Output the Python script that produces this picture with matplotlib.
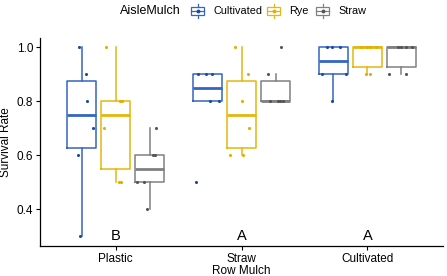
import numpy as np
import matplotlib.pyplot as plt
from matplotlib.patches import Rectangle

plt.rcParams['font.family'] = ['Liberation Sans', 'DejaVu Sans']

row_mulch = ["Plastic", "Straw", "Cultivated"]
aisle_mulch = ["Cultivated", "Rye", "Straw"]
letters = ["B", "A", "A"]

# survival rate per plot
plastic_cultivated = [1.0, 0.9, 0.8, 0.7, 0.6, 0.3]
plastic_rye = [1.0, 0.8, 0.8, 0.7, 0.5, 0.5]
plastic_straw = [0.7, 0.6, 0.6, 0.5, 0.5, 0.4]
straw_cultivated = [0.9, 0.9, 0.9, 0.8, 0.8, 0.5]
straw_rye = [1.0, 0.9, 0.8, 0.7, 0.6, 0.6]
straw_straw = [1.0, 0.9, 0.8, 0.8, 0.8, 0.8]
cult_cultivated = [1.0, 1.0, 1.0, 0.9, 0.9, 0.8]
cult_rye = [1.0, 1.0, 1.0, 1.0, 0.9, 0.9]
cult_straw = [1.0, 1.0, 1.0, 1.0, 0.9, 0.9]

groups = [
    [plastic_cultivated, plastic_rye, plastic_straw],
    [straw_cultivated, straw_rye, straw_straw],
    [cult_cultivated, cult_rye, cult_straw],
]

# horizontal jitter of the points (same order as data)
jitter = [
    [[-0.021, 0.037, 0.045, 0.090, -0.029, -0.013],
     [-0.079, 0.033, 0.048, -0.089, 0.025, 0.040],
     [0.049, 0.030, 0.046, -0.102, -0.041, -0.017]],
    [[-0.075, -0.008, 0.032, 0.018, 0.092, -0.093],
     [-0.048, 0.052, 0.0, 0.058, -0.093, 0.013],
     [0.040, -0.063, -0.045, 0.021, 0.060, 0.032]],
    [[-0.048, -0.013, 0.053, -0.092, 0.103, -0.013],
     [-0.052, -0.005, 0.067, 0.024, -0.013, 0.021],
     [-0.029, 0.083, 0.0, 0.040, -0.098, 0.040]],
]

line_cols = ["#3465C4", "#E5B70E", "#808080"]
pt_cols = ["#1C4BA6", "#E0B000", "#555555"]

fig = plt.figure(figsize=(4.47, 2.76), dpi=100)
ax = fig.add_axes([40 / 447, 1 - 245.7 / 276, 403 / 447, 207.9 / 276])

dodge = 0.27
for i, grp in enumerate(groups):
    for j, vals in enumerate(grp):
        pos = i + 1 + (j - 1) * dodge
        c = line_cols[j]
        ax.boxplot(vals, positions=[pos], widths=0.235, showcaps=False,
                   showfliers=False, manage_ticks=False, whis=1.5,
                   boxprops=dict(color=c, linewidth=1.1),
                   whiskerprops=dict(color=c, linewidth=1.1),
                   medianprops=dict(color=c, linewidth=2.0))
        xs = pos + np.array(jitter[i][j])
        ax.scatter(xs, vals, s=5, color=pt_cols[j], zorder=3, linewidths=0)
    ax.text(i + 1, 0.3, letters[i], ha='center', va='center', fontsize=10.5)

ax.set_xlim(0.4, 3.6)
ax.set_ylim(0.265, 1.035)
ax.set_xticks([1, 2, 3])
ax.set_xticklabels(row_mulch)
ax.set_yticks([0.4, 0.6, 0.8, 1.0])
ax.set_yticklabels(["0.4", "0.6", "0.8", "1.0"])
ax.tick_params(labelsize=8.5, length=3, width=0.8, pad=2)
ax.spines['top'].set_visible(False)
ax.spines['right'].set_visible(False)
for s in ['left', 'bottom']:
    ax.spines[s].set_linewidth(0.9)
ax.set_xlabel("Row Mulch", fontsize=8.5, labelpad=0)
ax.set_ylabel("Survival Rate", fontsize=8.5, labelpad=3)

# legend on top, drawn in pixel coordinates
lg = fig.add_axes([0, 0, 1, 1], zorder=-1)
lg.set_xlim(0, 447)
lg.set_ylim(276, 0)
lg.axis('off')
lg.text(120, 11, "AisleMulch", fontsize=9, va='center', ha='left')
key_x = [190, 266, 315]
lab_x = [213, 289, 338]
for k, name in enumerate(aisle_mulch):
    x0 = key_x[k]
    c = line_cols[k]
    lg.plot([x0 + 7.5, x0 + 7.5], [4, 7], color=c, lw=0.9)
    lg.plot([x0 + 7.5, x0 + 7.5], [15, 18], color=c, lw=0.9)
    lg.add_patch(Rectangle((x0 + 1, 7), 13, 8, fill=False, edgecolor=c, lw=0.9))
    lg.plot([x0 + 1, x0 + 14], [11, 11], color=c, lw=0.9)
    lg.plot([x0 + 7.5], [11], 'o', color=pt_cols[k], ms=1.8)
    lg.text(lab_x[k], 11, name, fontsize=7.8, va='center', ha='left')

fig.savefig("out.png", dpi=100)
